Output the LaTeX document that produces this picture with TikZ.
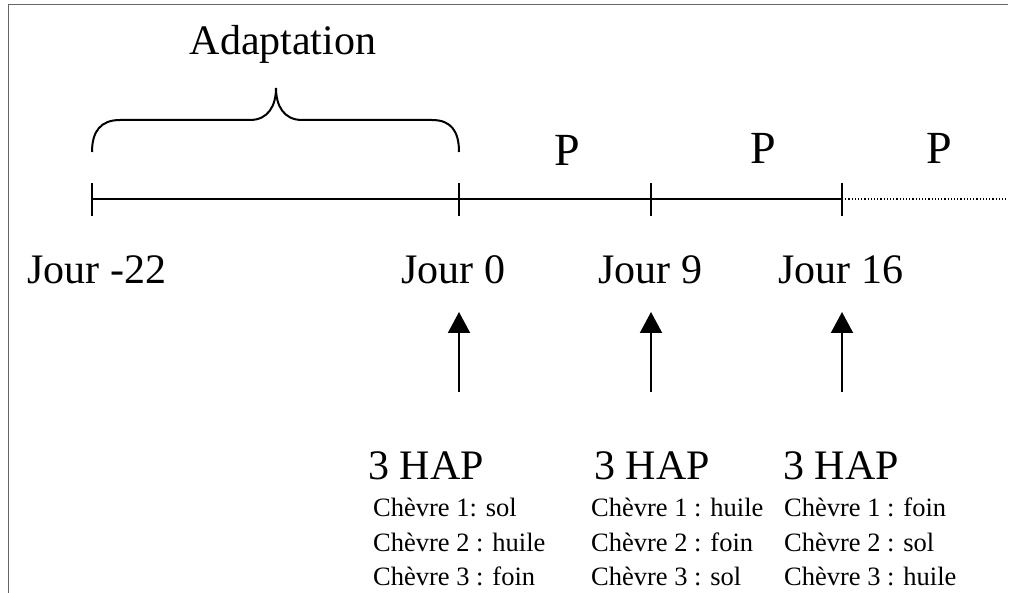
\documentclass[tikz,border=0pt]{standalone}
\usepackage{fontspec}
\setmainfont{Liberation Serif}
\usetikzlibrary{arrows.meta}
\begin{document}
\begin{tikzpicture}[x=1pt,y=-1pt,
  big/.style={font=\fontsize{42}{44}\selectfont, inner sep=0pt},
  plab/.style={font=\fontsize{46}{48}\selectfont, inner sep=0pt, anchor=base},
  small/.style={font=\fontsize{26.5}{29}\selectfont, inner sep=0pt, anchor=base west},
  axisline/.style={line width=2pt},
  tickmark/.style={line width=2.4pt},
  upar/.style={line width=2pt, -{Triangle[width=22pt,length=21pt]}},
  framel/.style={line width=1pt, draw=black!60}]
\useasboundingbox (0,0) rectangle (1010,593);
% frame
\coordinate (fl) at (8,593);
\coordinate (ftl) at (8,5);
\coordinate (ftr) at (1008,5);
\draw[framel] (fl) -- (ftl) -- (ftr);
% axis points
\coordinate (t1) at (92,199);
\coordinate (t2) at (459,199);
\coordinate (t3) at (651,199);
\coordinate (t4) at (842,199);
\coordinate (tend) at (1008,199);
\draw[axisline] (t1) -- (t4);
\draw[line width=1.2pt, dotted] (t4) -- (tend);
\foreach \t in {t1,t2,t3,t4}
  \draw[tickmark] ([yshift=16pt]\t) -- ([yshift=-17pt]\t);
% brace
\draw[line width=2pt] (92,152) .. controls (92,131) and (101,120) .. (120,120) -- (250,120)
  .. controls (268,120) and (276,106) .. (276,88)
  .. controls (276,106) and (284,120) .. (302,120) -- (432,120)
  .. controls (451,120) and (459,131) .. (459,152);
\node[big, anchor=base] (adapt) at (283,55) {Adaptation};
% P labels
\node[plab] (p1) at (567,166) {P};
\node[plab] (p2) at (763,164) {P};
\node[plab] (p3) at (939,164) {P};
% day labels
\node[big, anchor=base west] (j1) at (27,284) {Jour -22};
\node[big, anchor=base west] (j2) at (401,284) {Jour 0};
\node[big, anchor=base west] (j3) at (598,284) {Jour 9};
\node[big, anchor=base west] (j4) at (778,284) {Jour 16};
% arrows
\coordinate (a1) at (459,392);
\coordinate (a2) at (651,392);
\coordinate (a3) at (842,392);
\coordinate (b1) at (459,312);
\coordinate (b2) at (651,312);
\coordinate (b3) at (842,312);
\draw[upar] (a1) -- (b1);
\draw[upar] (a2) -- (b2);
\draw[upar] (a3) -- (b3);
% HAP blocks
\node[big, anchor=base west] (h1) at (368,480) {3 HAP};
\node[big, anchor=base west] (h2) at (594,480) {3 HAP};
\node[big, anchor=base west] (h3) at (783,480) {3 HAP};
\node[small] (c11) at (373,517) {Chèvre 1: sol};
\node[small] (c12) at (373,551) {Chèvre 2 : huile};
\node[small] (c13) at (373,585) {Chèvre 3 : foin};
\node[small] (c21) at (591,517) {Chèvre 1 : huile};
\node[small] (c22) at (591,551) {Chèvre 2 : foin};
\node[small] (c23) at (591,585) {Chèvre 3 : sol};
\node[small] (c31) at (784,517) {Chèvre 1 : foin};
\node[small] (c32) at (784,551) {Chèvre 2 : sol};
\node[small] (c33) at (784,585) {Chèvre 3 : huile};
\end{tikzpicture}
\end{document}
